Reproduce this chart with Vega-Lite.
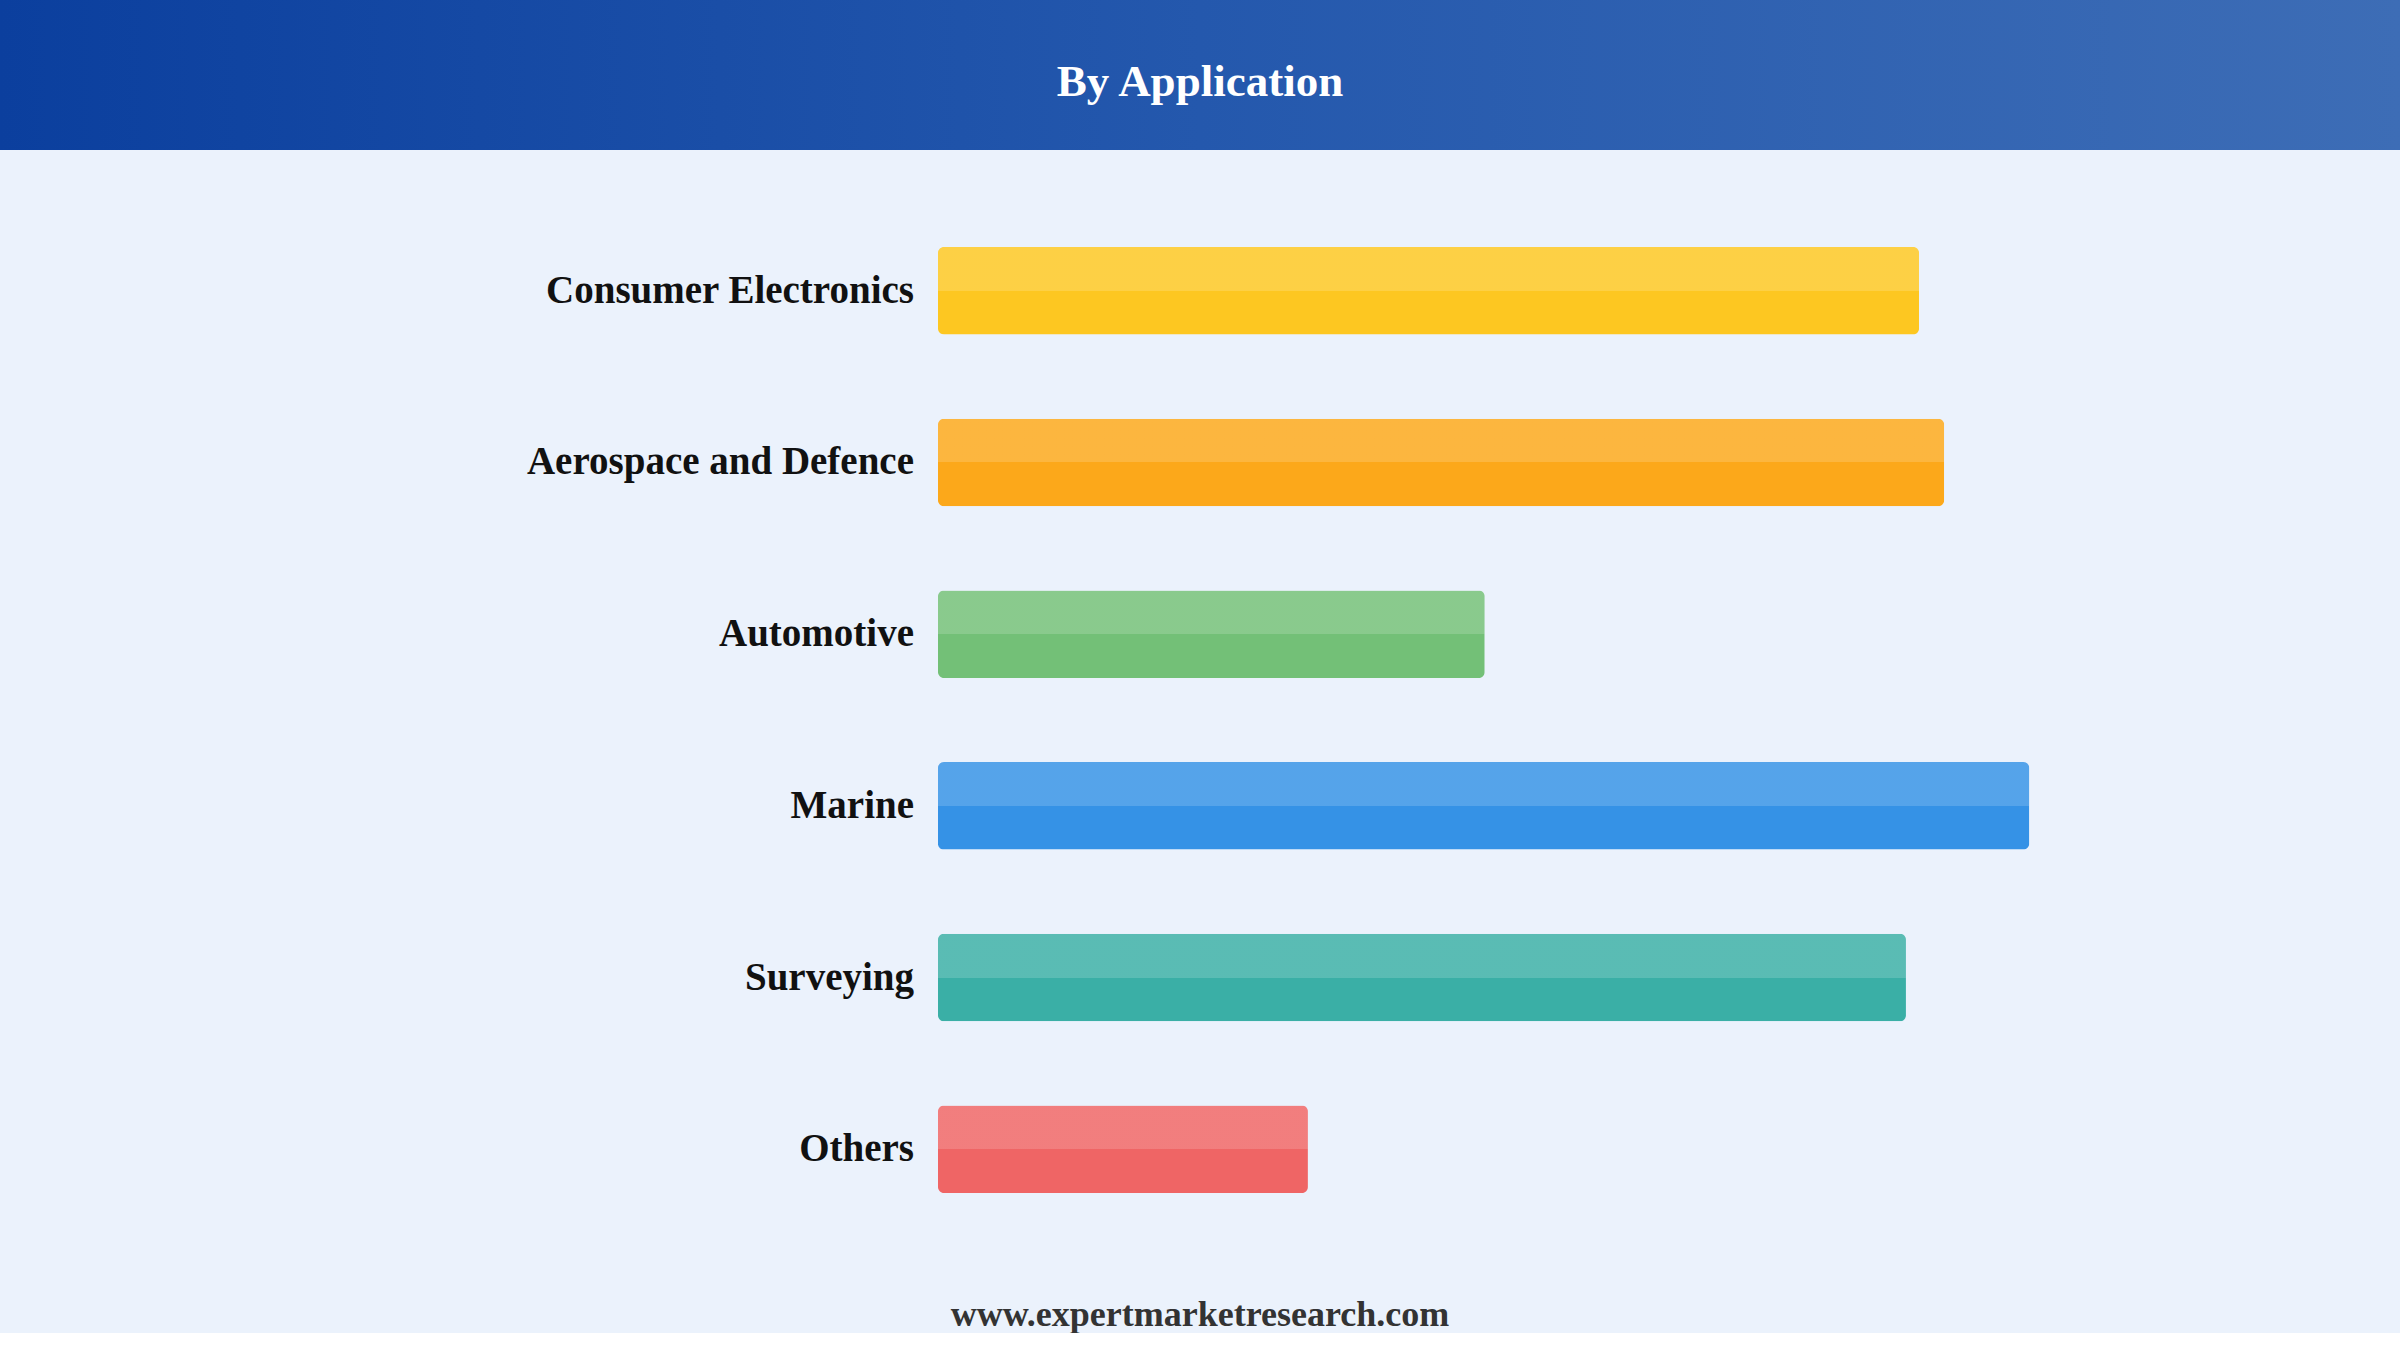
{
  "$schema": "https://vega.github.io/schema/vega-lite/v6.json",
  "background": "#EBF2FC",
  "padding": 0,
  "spacing": 0,
  "title": {
    "text": "www.expertmarketresearch.com",
    "orient": "bottom",
    "anchor": "middle",
    "frame": "bounds",
    "baseline": "alphabetic",
    "offset": 36,
    "font": "Liberation Serif",
    "fontSize": 36,
    "fontWeight": "bold",
    "color": "#333333"
  },
  "vconcat": [
    {
      "width": 2400,
      "height": 150,
      "data": {"values": [{"header": "By Application"}]},
      "layer": [
        {
          "mark": {
            "type": "rect",
            "fill": {
              "gradient": "linear",
              "x1": 0, "y1": 0, "x2": 1, "y2": 0,
              "stops": [
                {"offset": 0, "color": "#0B3F9E"},
                {"offset": 0.5, "color": "#2458AD"},
                {"offset": 1, "color": "#3D6DB6"}
              ]
            }
          },
          "encoding": {}
        },
        {
          "mark": {
            "type": "text",
            "font": "Liberation Serif",
            "fontSize": 45,
            "fontWeight": "bold",
            "color": "#FFFFFF",
            "baseline": "alphabetic",
            "dy": 21
          },
          "encoding": {"text": {"field": "header"}}
        }
      ]
    },
    {
      "width": 2400,
      "height": 1140,
      "data": {
        "values": [
          {"application": "Consumer Electronics", "value": 89.9},
          {"application": "Aerospace and Defence", "value": 92.2},
          {"application": "Automotive", "value": 50.1},
          {"application": "Marine", "value": 100},
          {"application": "Surveying", "value": 88.7},
          {"application": "Others", "value": 33.9}
        ]
      },
      "encoding": {
        "y": {
          "field": "application",
          "type": "nominal",
          "sort": null,
          "scale": {"paddingInner": 0.49, "paddingOuter": 0.565},
          "axis": null
        }
      },
      "layer": [
        {
          "mark": {"type": "bar", "cornerRadius": 6},
          "encoding": {
            "x": {
              "field": "value",
              "type": "quantitative",
              "scale": {"domain": [-85.95, 133.97], "nice": false, "zero": false},
              "axis": null
            },
            "color": {
              "field": "application",
              "type": "nominal",
              "scale": {
                "domain": ["Consumer Electronics", "Aerospace and Defence", "Automotive", "Marine", "Surveying", "Others"],
                "range": ["#FDC721", "#FCA81A", "#73C077", "#3592E6", "#3AAFA6", "#EF6565"]
              },
              "legend": null
            }
          }
        },
        {
          "mark": {
            "type": "bar",
            "cornerRadius": 6,
            "fill": {
              "gradient": "linear",
              "x1": 0, "y1": 0, "x2": 0, "y2": 1,
              "stops": [
                {"offset": 0, "color": "rgba(255,255,255,0.16)"},
                {"offset": 0.5, "color": "rgba(255,255,255,0.16)"},
                {"offset": 0.5, "color": "rgba(255,255,255,0)"},
                {"offset": 1, "color": "rgba(255,255,255,0)"}
              ]
            }
          },
          "encoding": {
            "x": {"field": "value", "type": "quantitative"}
          }
        },
        {
          "mark": {
            "type": "text",
            "align": "right",
            "baseline": "middle",
            "dx": -24,
            "font": "Liberation Serif",
            "fontSize": 39,
            "fontWeight": "bold",
            "color": "#111111"
          },
          "encoding": {
            "x": {"datum": 0, "type": "quantitative"},
            "text": {"field": "application"}
          }
        }
      ]
    }
  ],
  "config": {
    "view": {"stroke": null},
    "concat": {"spacing": 0}
  }
}
